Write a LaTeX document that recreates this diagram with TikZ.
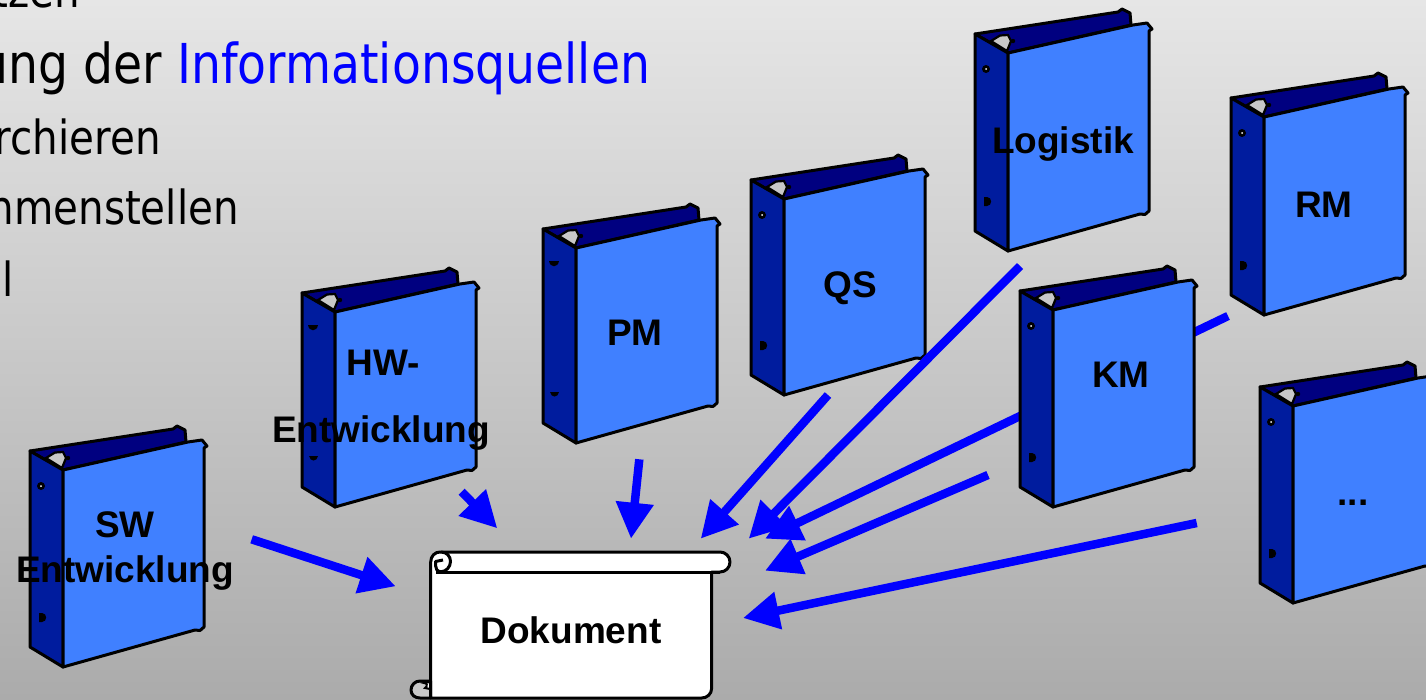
\documentclass[tikz,border=0pt]{standalone}
\usepackage{fontspec}
\usetikzlibrary{arrows.meta}
\setmainfont{Liberation Sans}
\newfontfamily\slidefont[FakeStretch=0.86]{DejaVu Sans}
\definecolor{bgtop}{HTML}{E6E6E6}
\definecolor{bgbot}{HTML}{ABABAB}
\definecolor{coverblue}{HTML}{4080FF}
\definecolor{spineblue}{HTML}{001C9E}
\definecolor{backblue}{HTML}{000080}
\definecolor{ringgray}{HTML}{C8C8C8}
\tikzset{
  outline/.style={draw=black,line width=3pt,line join=round},
  flow/.style={draw=blue,line width=8.5pt,-{Triangle[length=36pt,width=36pt,fill=blue]}},
  lbl/.style={font=\fontsize{37}{37}\selectfont\bfseries,text=black,inner sep=0pt,anchor=base},
  slideA/.style={font=\fontsize{55}{55}\slidefont,inner sep=0pt},
  slideB/.style={font=\fontsize{47}{47}\slidefont,inner sep=0pt}
}
% hole styles: ring + D, or two flat marks
\newcommand\holesRing[1]{%
  \fill[black] (11,35) circle (4);
  \fill[white] (11,35) circle (1);
  \fill[black] (9,#1-54) -- (12,#1-54) .. controls (17.5,#1-54) and (17.5,#1-45) .. (12,#1-45) -- (9,#1-45) -- cycle;}
\newcommand\holesFlat[1]{%
  \fill[black] (6,32) -- (16,32) .. controls (15,39) and (7,39) .. (6,32) -- cycle;
  \fill[black] (7,#1-51) -- (16,#1-51) .. controls (15,#1-45) and (8,#1-45) .. (7,#1-51) -- cycle;}
\newcommand\ringbinder[4]{%
  \begin{scope}[shift={(#1,#2)}]
    \path[outline,fill=backblue] (0,0) -- (143,-22) -- (147,-25) -- (155,-21) -- (156,-9) -- (33,19) -- cycle;
    \path[outline,fill=spineblue] (0,0) -- (33,19) -- (33,#3) -- (0,#3-20) -- cycle;
    \path[outline,fill=coverblue] (33,19) -- (158,-9) -- (172,-11) -- (177,-5) -- (174,-3) -- (174,#3-40) -- (170,#3-36.5) -- (165,#3-37) -- (33,#3) -- cycle;
    \path[draw=black,line width=2.2pt,fill=ringgray] (16,7) -- (25,1.5) -- (33,1) -- (36,7) -- (32,17) -- cycle;
    \fill[black] (38,7) circle (2.2);
    #4{#3}
  \end{scope}}
\begin{document}
\begin{tikzpicture}[x=1pt,y=-1pt]
\useasboundingbox (0,0) rectangle (1426,699);
\clip (0,0) rectangle (1426,699);
\shade[top color=bgtop,bottom color=bgbot] (0,0) rectangle (1426,699);
% slide text
\node[slideB,anchor=base east] (t0) at (80,7) {tzen};
\node[slideA,anchor=base east] (t1) at (162,83) {ung der};
\node[slideA,anchor=base west,text=blue] (t1b) at (177,83) {Informationsquellen};
\node[slideB,anchor=base east] (t2) at (161,154) {rchieren};
\node[slideB,anchor=base east] (t3) at (239,224) {nmenstellen};
\node[slideB,anchor=base west] (t4) at (2,296) {l};
% arrow ends
\coordinate (swS) at (251.7,539.3); \coordinate (swT) at (395.7,586.3);
\coordinate (hwS) at (461.7,491.7); \coordinate (hwT) at (497.3,528.3);
\coordinate (pmS) at (639.3,459.3); \coordinate (pmT) at (631,538.7);
\coordinate (qsS) at (828,395);     \coordinate (qsT) at (700.7,538.7);
\coordinate (loS) at (1020,266);    \coordinate (loT) at (748.7,538.7);
\coordinate (rmS) at (1228,316);    \coordinate (rmT) at (765,538.7);
\coordinate (kmS) at (988,475);     \coordinate (kmT) at (765,570.7);
\coordinate (etS) at (1196.7,523);  \coordinate (etT) at (743,618);
% RM arrow runs behind the KM binder
\draw[flow] (rmS) -- (rmT);
% binders
\ringbinder{30}{451}{216}{\holesRing}
\ringbinder{302}{293}{214}{\holesFlat}
\ringbinder{543}{229}{214}{\holesFlat}
\ringbinder{751}{180}{215}{\holesRing}
\ringbinder{975}{34}{217}{\holesRing}
\ringbinder{1231}{98}{217}{\holesRing}
\ringbinder{1020}{291}{216}{\holesRing}
\ringbinder{1260}{387}{216}{\holesRing}
% arrows
\draw[flow] (swS) -- (swT);
\draw[flow] (hwS) -- (hwT);
\draw[flow] (pmS) -- (pmT);
\draw[flow] (qsS) -- (qsT);
\draw[flow] (loS) -- (loT);
\draw[flow] (kmS) -- (kmT);
\draw[flow] (etS) -- (etT);
% document scroll
\path[outline,fill=white] (430.7,562) .. controls (430.7,556) and (435,552) .. (440,552) -- (720,552)
  arc (-90:90:10) -- (711.7,572) -- (711.7,688) .. controls (711.7,694) and (707,698) .. (701.7,698)
  -- (430.7,698) -- cycle;
\draw[outline] (436,572) -- (720,572);
\path[outline,fill=white] (441,552) .. controls (447,552) and (450.5,556.5) .. (450.5,561.5)
  .. controls (450.5,567) and (446,571.7) .. (441,571.7) .. controls (437,571.7) and (435.5,568.5) .. (435.5,565.5)
  -- (435.5,561.5) -- (443,560);
\path[outline,fill=ringgray] (430.7,681) -- (420,681) .. controls (415,681) and (411,685) .. (411,690)
  .. controls (411,695) and (415,698) .. (420,698) -- (430.7,698) -- cycle;
\path[draw=black,line width=2pt,fill=white] (424,683) .. controls (427,683) and (428,686) .. (425,688) -- (430,689) -- (430,682) -- cycle;
% labels
\node[lbl] (sw1) at (125,537) {SW};
\node[lbl] (sw2) at (125,582) {Entwicklung};
\node[lbl] (hw1) at (383,375) {HW-};
\node[lbl] (hw2) at (381,442) {Entwicklung};
\node[lbl] (pm) at (635,345) {PM};
\node[lbl] (qs) at (850,297) {QS};
\node[lbl] (lo) at (1063,153) {Logistik};
\node[lbl] (rm) at (1324,217) {RM};
\node[lbl] (km) at (1121,387) {KM};
\node[lbl] (et) at (1353,505) {...};
\node[lbl] (doc) at (571,643) {Dokument};
\end{tikzpicture}
\end{document}
